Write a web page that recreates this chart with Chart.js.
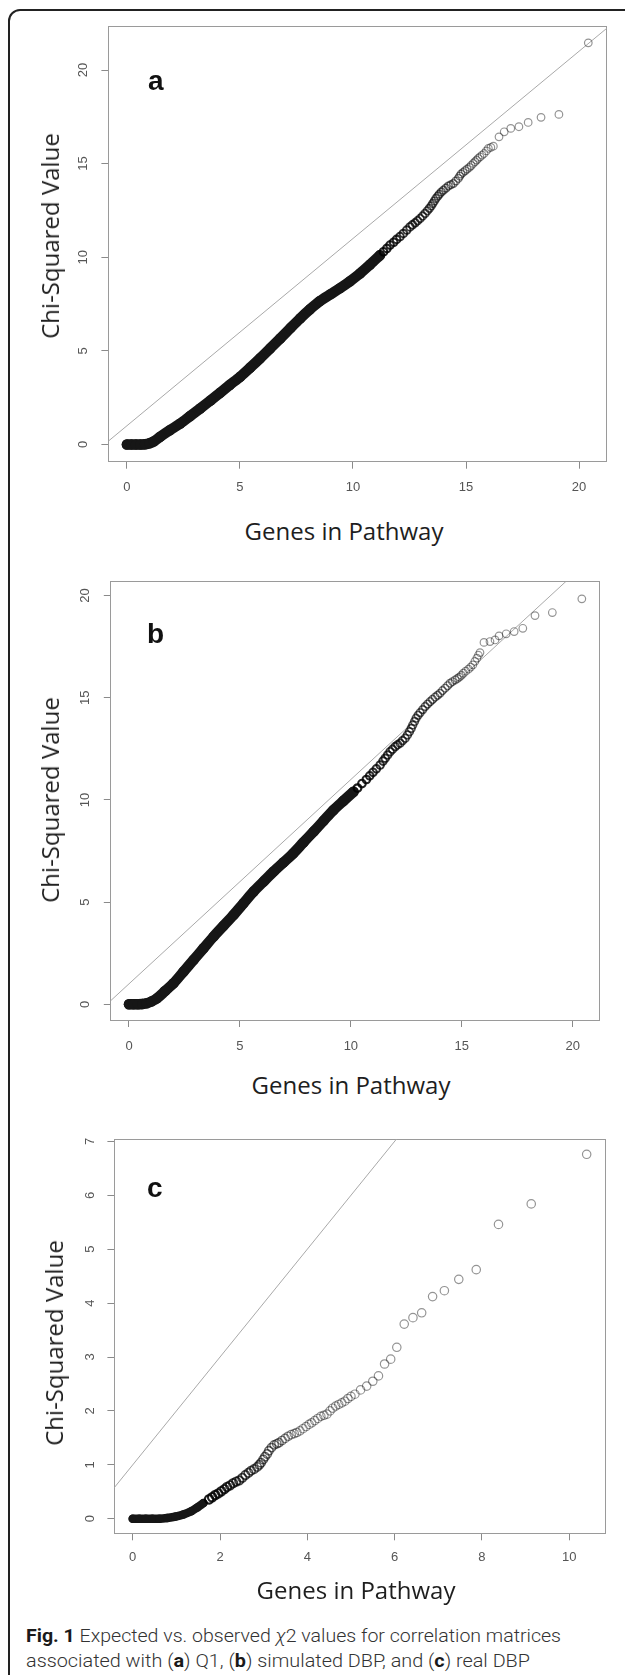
<!DOCTYPE html>
<html>
<head>
<meta charset="utf-8">
<script src="https://cdn.jsdelivr.net/npm/chart.js"></script>
<style>
html,body{margin:0;padding:0;background:#fff;}
body{width:625px;height:1675px;position:relative;overflow:hidden;}
.frame{position:absolute;left:8px;top:9px;width:720px;height:1760px;border:2px solid #222;border-radius:12px;box-sizing:border-box;}
canvas{position:absolute;left:0;}
.ytitle{position:absolute;font-family:"Open Sans",sans-serif;font-size:24px;line-height:24px;color:#1e1e1e;white-space:nowrap;transform:translate(-50%,-50%) rotate(-90deg);}
.xtitle{position:absolute;font-family:"Open Sans",sans-serif;font-size:24px;line-height:24px;color:#1e1e1e;white-space:nowrap;transform:translate(-50%,-50%);}
.letter{position:absolute;font-family:"Liberation Sans",Arial,sans-serif;font-weight:bold;font-size:28px;line-height:28px;color:#111;}
.cap{position:absolute;left:26px;display:inline-block;font-family:Roboto,sans-serif;font-weight:300;font-size:18.5px;line-height:20px;color:#333;white-space:nowrap;transform-origin:0 50%;}
.cap b{font-weight:700;color:#1a1a1a;}
</style>
</head>
<body>
<div class="frame"></div>
<canvas id="chartA" width="625" height="505" style="top:0px"></canvas>
<canvas id="chartB" width="625" height="505" style="top:560px"></canvas>
<canvas id="chartC" width="625" height="470" style="top:1110px"></canvas>

<div class="letter" style="left:148px;top:67px">a</div>
<div class="letter" style="left:147px;top:620px">b</div>
<div class="letter" style="left:147px;top:1174px">c</div>

<div class="ytitle" style="left:50px;top:236px">Chi-Squared Value</div>
<div class="ytitle" style="left:50px;top:800px">Chi-Squared Value</div>
<div class="ytitle" style="left:54px;top:1343px">Chi-Squared Value</div>

<div class="xtitle" style="left:344px;top:531px">Genes in Pathway</div>
<div class="xtitle" style="left:351px;top:1085px">Genes in Pathway</div>
<div class="xtitle" style="left:356px;top:1590px">Genes in Pathway</div>

<div class="cap" data-w="535" style="top:1626px"><b>Fig. 1</b> Expected vs. observed <i>χ</i>2 values for correlation matrices</div>
<div class="cap" data-w="504" style="top:1651px">associated with (<b>a</b>) Q1, (<b>b</b>) simulated DBP, and (<b>c</b>) real DBP</div>

<script>
// ---------- data ----------
// reference line drawn in every panel: y = intercept + slope * x
const refLine = { intercept: 1, slope: 1 };

// Panel a (Q1)
const xTicksA = [0, 5, 10, 15, 20];
const yTicksA = [0, 5, 10, 15, 20];
const xLimA = [-0.82, 21.22];
const yLimA = [-0.92, 22.35];
const denseA = [[0,0],[0.2,0],[0.4,0],[0.6,0],[0.8,0.01],[1.0,0.06],[1.2,0.17],[1.47,0.41],[1.9,0.76],[2.36,1.12],[2.8,1.52],[3.24,1.92],[3.7,2.35],[4.12,2.76],[4.55,3.18],[5.01,3.62],[5.45,4.1],[5.89,4.6],[6.33,5.12],[6.78,5.66],[7.22,6.2],[7.66,6.73],[8.1,7.22],[8.54,7.66],[9.0,8.02],[9.43,8.35],[9.87,8.72],[10.31,9.13],[10.75,9.6],[11.19,10.1]];
const tailA = [[11.35,10.29],[11.5,10.47],[11.64,10.65],[11.8,10.8],[11.93,10.95],[12.08,11.1],[12.23,11.27],[12.38,11.45],[12.52,11.62],[12.63,11.73],[12.75,11.84],[12.86,11.95],[12.97,12.07],[13.08,12.2],[13.19,12.34],[13.29,12.48],[13.38,12.61],[13.46,12.74],[13.53,12.87],[13.6,13.0],[13.67,13.14],[13.75,13.26],[13.82,13.37],[13.91,13.48],[14.0,13.58],[14.11,13.69],[14.22,13.8],[14.33,13.87],[14.44,13.94],[14.55,14.07],[14.66,14.21],[14.72,14.33],[14.78,14.44],[14.87,14.53],[14.96,14.62],[15.05,14.71],[15.15,14.8],[15.23,14.9],[15.32,15.01],[15.4,15.1],[15.47,15.19],[15.54,15.28],[15.62,15.36],[15.71,15.45],[15.8,15.54],[15.9,15.68],[15.99,15.81],[16.1,15.87],[16.21,15.93],[16.46,16.43],[16.69,16.7],[16.98,16.88],[17.34,16.97],[17.75,17.2],[18.32,17.47],[19.11,17.63],[20.41,21.45]];

// Panel b (simulated DBP)
const xTicksB = [0, 5, 10, 15, 20];
const yTicksB = [0, 5, 10, 15, 20];
const xLimB = [-0.82, 21.22];
const yLimB = [-0.77, 20.68];
const denseB = [[0,0],[0.2,0],[0.4,0],[0.6,0.01],[0.8,0.05],[1.0,0.13],[1.26,0.29],[1.63,0.65],[2.01,1.03],[2.46,1.6],[2.91,2.17],[3.36,2.74],[3.81,3.31],[4.26,3.84],[4.71,4.37],[5.16,4.94],[5.61,5.51],[6.06,6.0],[6.51,6.49],[6.96,6.94],[7.41,7.39],[7.86,7.92],[8.32,8.45],[8.77,8.98],[9.22,9.51],[9.67,9.96],[10.12,10.4]];
const tailB = [[10.3,10.58],[10.5,10.8],[10.7,11.0],[10.85,11.18],[11.0,11.35],[11.15,11.52],[11.32,11.71],[11.45,11.9],[11.55,12.04],[11.66,12.2],[11.77,12.36],[11.88,12.48],[12.0,12.61],[12.11,12.7],[12.22,12.78],[12.33,12.9],[12.45,13.02],[12.55,13.18],[12.64,13.34],[12.72,13.5],[12.79,13.67],[12.87,13.84],[12.94,14.0],[13.03,14.14],[13.12,14.27],[13.24,14.42],[13.35,14.57],[13.46,14.69],[13.57,14.81],[13.68,14.92],[13.8,15.03],[13.91,15.12],[14.02,15.22],[14.13,15.35],[14.25,15.47],[14.36,15.59],[14.47,15.71],[14.58,15.79],[14.7,15.87],[14.8,15.94],[14.89,16.01],[14.98,16.1],[15.07,16.2],[15.18,16.3],[15.3,16.4],[15.4,16.5],[15.5,16.61],[15.59,16.78],[15.68,16.94],[15.75,17.08],[15.82,17.21],[16.0,17.71],[16.27,17.75],[16.5,17.83],[16.68,18.03],[17.0,18.13],[17.36,18.24],[17.75,18.4],[18.3,19.02],[19.08,19.17],[20.41,19.84]];

// Panel c (real DBP)
const xTicksC = [0, 2, 4, 6, 8, 10];
const yTicksC = [0, 1, 2, 3, 4, 5, 6, 7];
const xLimC = [-0.42, 10.82];
const yLimC = [-0.27, 7.04];
const denseC = [[0,0],[0.15,0],[0.3,0],[0.45,0],[0.61,0],[0.79,0.015],[0.98,0.04],[1.16,0.08],[1.34,0.14],[1.48,0.21],[1.62,0.29]];
const tailC = [[1.75,0.36],[1.82,0.4],[1.89,0.44],[1.96,0.47],[2.03,0.51],[2.1,0.55],[2.16,0.59],[2.23,0.62],[2.3,0.66],[2.37,0.69],[2.44,0.71],[2.51,0.76],[2.58,0.81],[2.65,0.85],[2.71,0.89],[2.78,0.92],[2.85,0.96],[2.9,1.0],[2.94,1.04],[2.99,1.1],[3.03,1.15],[3.08,1.2],[3.12,1.26],[3.18,1.32],[3.24,1.37],[3.3,1.39],[3.35,1.41],[3.42,1.45],[3.49,1.49],[3.56,1.53],[3.63,1.56],[3.7,1.58],[3.76,1.6],[3.83,1.63],[3.9,1.67],[3.97,1.71],[4.04,1.75],[4.1,1.78],[4.17,1.82],[4.24,1.86],[4.31,1.9],[4.38,1.92],[4.45,1.94],[4.52,2.0],[4.58,2.05],[4.65,2.09],[4.72,2.12],[4.79,2.15],[4.86,2.18],[4.93,2.23],[5.0,2.27],[5.09,2.31],[5.22,2.39],[5.36,2.46],[5.5,2.55],[5.63,2.65],[5.77,2.87],[5.91,2.96],[6.05,3.18],[6.22,3.61],[6.42,3.73],[6.62,3.82],[6.87,4.12],[7.14,4.23],[7.47,4.44],[7.87,4.62],[8.38,5.46],[9.13,5.84],[10.4,6.76]];

// ---------- chart construction ----------
const BOX = '#9a9a9a';
const TICKCOL = '#8a8a8a';
const LABELCOL = '#555';

function toXY(arr){ return arr.map(([x, y]) => ({ x, y })); }

function makePanel(id, p) {
  const cv = document.getElementById(id);
  const W = cv.width, H = cv.height;
  const xs = [p.xLim[0] - 1, p.xLim[1] + 1];
  const lineData = xs.map(x => ({ x, y: refLine.intercept + refLine.slope * x }));
  const zero = s => { s.paddingTop = 0; s.paddingBottom = 0; s.paddingLeft = 0; s.paddingRight = 0; };
  // darker where the circles pile up, lighter in the sparse tail
  const fadeT = c => {
    const x = c.raw ? c.raw.x : p.fade[1];
    return Math.min(1, Math.max(0, (x - p.fade[0]) / (p.fade[1] - p.fade[0])));
  };
  return new Chart(cv, {
    type: 'scatter',
    data: {
      datasets: [
        { data: lineData, showLine: true, borderColor: '#a9a9a9', borderWidth: 1,
          pointRadius: 0, xAxisID: 'x', yAxisID: 'y', order: 3 },
        { data: toXY(p.dense), showLine: true, borderColor: '#161616', borderWidth: p.bandW,
          borderCapStyle: 'round', borderJoinStyle: 'round', tension: 0.3,
          pointRadius: p.bandW / 2, pointBackgroundColor: '#161616', pointBorderColor: '#161616',
          pointBorderWidth: 0, xAxisID: 'x', yAxisID: 'y', order: 2 },
        { data: toXY(p.tail), showLine: false, pointRadius: p.r, pointBackgroundColor: 'rgba(0,0,0,0)',
          pointBorderColor: c => 'rgba(0,0,0,' + (0.88 - 0.46 * fadeT(c)).toFixed(3) + ')',
          pointBorderWidth: c => 2.2 - 1.0 * fadeT(c),
          xAxisID: 'x', yAxisID: 'y', order: 1 }
      ]
    },
    options: {
      responsive: false, animation: false, events: [],
      plugins: { legend: { display: false }, tooltip: { enabled: false } },
      layout: { padding: { top: p.area.top, right: W - p.area.right, left: 0, bottom: 0 } },
      scales: {
        x: {
          type: 'linear', position: 'bottom', min: p.xLim[0], max: p.xLim[1],
          afterFit: s => { s.height = H - p.area.bottom; zero(s); },
          afterBuildTicks: s => { s.ticks = p.xTicks.map(v => ({ value: v })); },
          ticks: { font: { family: 'Liberation Sans', size: 13 }, color: LABELCOL, padding: p.xPad,
                   maxRotation: 0, minRotation: 0, autoSkip: false, callback: v => String(v) },
          grid: { display: true, drawOnChartArea: false, drawTicks: true, tickLength: 7, tickColor: TICKCOL, tickWidth: 1 },
          border: { display: true, color: BOX, width: 1 }
        },
        y: {
          type: 'linear', position: 'left', min: p.yLim[0], max: p.yLim[1],
          afterFit: s => { s.width = p.area.left; zero(s); },
          afterBuildTicks: s => { s.ticks = p.yTicks.map(v => ({ value: v })); },
          ticks: { font: { family: 'Liberation Sans', size: 13 }, color: LABELCOL, padding: p.yPad,
                   minRotation: 90, maxRotation: 90, crossAlign: 'center', autoSkip: false, callback: v => String(v) },
          grid: { display: true, drawOnChartArea: false, drawTicks: true, tickLength: 7, tickColor: TICKCOL, tickWidth: 1 },
          border: { display: true, color: BOX, width: 1 }
        },
        x2: {
          type: 'linear', position: 'top', min: 0, max: 1,
          afterFit: s => { s.height = 0; zero(s); },
          ticks: { display: false }, grid: { display: false, drawTicks: false },
          border: { display: true, color: BOX, width: 1 }
        },
        y2: {
          type: 'linear', position: 'right', min: 0, max: 1,
          afterFit: s => { s.width = 0; zero(s); },
          ticks: { display: false }, grid: { display: false, drawTicks: false },
          border: { display: true, color: BOX, width: 1 }
        }
      }
    }
  });
}

makePanel('chartA', { xTicks: xTicksA, yTicks: yTicksA, xLim: xLimA, yLim: yLimA,
  dense: denseA, tail: tailA, bandW: 10.5, r: 3.8, xPad: 10.8, yPad: 10.5, fade: [11.3, 15.6],
  area: { left: 108.4, top: 26, right: 606.6, bottom: 461.7 } });
makePanel('chartB', { xTicks: xTicksB, yTicks: yTicksB, xLim: xLimB, yLim: yLimB,
  dense: denseB, tail: tailB, bandW: 10.5, r: 3.8, xPad: 11.2, yPad: 10.9, fade: [10.3, 15.4],
  area: { left: 110.8, top: 21.7, right: 599.8, bottom: 460 } });
makePanel('chartC', { xTicks: xTicksC, yTicks: yTicksC, xLim: xLimC, yLim: yLimC,
  dense: denseC, tail: tailC, bandW: 8.5, r: 4.2, xPad: 9.1, yPad: 12.9, fade: [1.75, 3.8],
  area: { left: 114.4, top: 29.2, right: 605, bottom: 423.3 } });

// fit caption lines to the width they occupy in the figure
document.querySelectorAll('.cap').forEach(el => {
  const target = +el.dataset.w;
  const w = el.getBoundingClientRect().width;
  if (w > 0) el.style.transform = 'scaleX(' + (target / w) + ')';
});
</script>
</body>
</html>
